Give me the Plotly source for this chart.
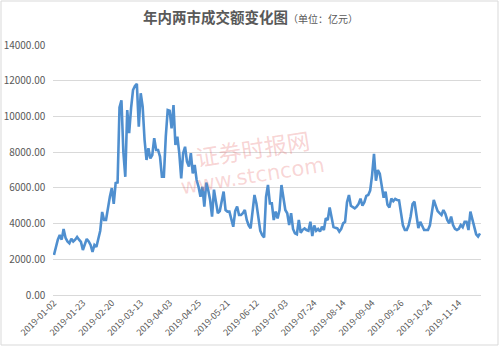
import plotly.graph_objects as go

# Trading-day turnover (亿元), 2019-01-02 .. 2019-11-29
values = [
    2240, 2700, 3100, 3360, 3100, 3700, 3200, 3000, 2900, 3150,
    3000, 3100, 3250, 3100, 2970, 2520, 2900, 3140, 3000, 2800,
    2410, 2800, 2690, 3100, 3600, 4650, 4200, 4200, 4900, 5500,
    5990, 5100, 6270, 6300, 10500, 10900, 8000, 6620, 10360, 9070,
    10470, 11480, 11700, 11820, 9430, 11300, 10550, 8680, 7560, 8220,
    7650, 7840, 8780, 8120, 8120, 7750, 6620, 6620, 8870, 10360,
    10320, 9330, 10640, 8400, 8870, 7940, 6530, 7940, 8300, 7470,
    7190, 7940, 6810, 7280, 6440, 6060, 5500, 6060, 4950, 6300,
    5880, 5320, 4390, 5900, 5230, 4580, 4700, 5230, 5790, 4760,
    4670, 4670, 4200, 3820, 4700, 4950, 4480, 4480, 4580, 4760,
    4200, 3900, 3730, 4800, 5600, 5130, 4300, 3600, 3360, 3230,
    5500, 6160, 5130, 5130, 4200, 4670, 4290, 4760, 6160, 5500,
    4760, 4580, 3920, 4580, 3700, 3450, 3400, 4200, 3490, 3650,
    3730, 3640, 3600, 4100, 3300, 3900, 3600, 3700, 3550, 3820,
    3640, 4300, 4200, 4900, 4290, 3800, 3760, 3730, 3550, 3700,
    4010, 4100, 5200, 5600, 5000, 4900, 4850, 4950, 5100, 5400,
    5000, 5200, 5550, 5600, 5850, 6700, 7900, 6400, 7000, 6800,
    6050, 5450, 5790, 5050, 4900, 5400, 5250, 5380, 5320, 5300,
    4600, 3900, 3640, 3640, 3900, 4400, 5100, 5230, 4480, 3750,
    4100, 3850, 3640, 3640, 3640, 3900, 4700, 5320, 5000, 4700,
    4580, 4480, 4760, 4550, 4200, 4010, 4390, 3920, 3700, 3640,
    3700, 3920, 3800, 4100, 4100, 3640, 4670, 4290, 3800, 3400,
    3270, 3450,
]

# Category-axis labels shown every 15 trading days
tick_labels = [
    "2019-01-02", "2019-01-23", "2019-02-20", "2019-03-13", "2019-04-03",
    "2019-04-25", "2019-05-21", "2019-06-12", "2019-07-03", "2019-07-24",
    "2019-08-14", "2019-09-04", "2019-09-26", "2019-10-24", "2019-11-14",
]
tick_step = 15

title_main = "年内两市成交额变化图"
title_unit = "（单位：亿元）"
watermark_cn = "证券时报网"
watermark_en = "www.stcncom"

x = list(range(len(values)))
tick_pos = [i * tick_step for i in range(len(tick_labels))]

fig = go.Figure()
fig.add_trace(go.Scatter(
    x=x, y=values, mode="lines",
    line=dict(color="#4f8fcf", width=2.6),
    hoverinfo="y",
))

L, R, T, B = 53, 19, 45, 52
W, H = 500, 347
pw, ph = W - L - R, H - T - B

fig.update_layout(
    width=W, height=H,
    margin=dict(l=L, r=R, t=T, b=B, autoexpand=False),
    paper_bgcolor="white", plot_bgcolor="white",
    showlegend=False,
    font=dict(family="Noto Sans CJK SC, Microsoft YaHei, sans-serif", color="#595959"),
    xaxis=dict(
        range=[-0.5, len(values) - 0.5],
        tickmode="array", tickvals=tick_pos, ticktext=tick_labels,
        tickangle=-45, tickfont=dict(size=9, color="#595959"),
        showgrid=False, zeroline=False, showline=False, ticks="",
        automargin=False,
    ),
    yaxis=dict(
        range=[0, 14000], dtick=2000, tickformat=".2f",
        tickfont=dict(size=10, color="#595959"),
        ticksuffix="\u00a0\u00a0\u00a0",
        showgrid=True, gridcolor="#d9d9d9", gridwidth=1,
        zeroline=True, zerolinecolor="#d9d9d9", zerolinewidth=1,
        showline=False, ticks="", automargin=False,
    ),
)

def px2paper(px, py):
    return (px - L) / pw, (H - B - py) / ph

tx, ty = px2paper(250, 17)
fig.add_annotation(
    x=tx, y=ty, xref="paper", yref="paper", yanchor="middle", xanchor="center",
    text=f"<b>{title_main}</b><span style='font-size:10px'>{title_unit}</span>",
    showarrow=False, font=dict(size=14.5, color="#595959"),
)

ax, ay = px2paper(252, 148)
fig.add_annotation(x=ax, y=ay, xref="paper", yref="paper", text=watermark_cn,
                   showarrow=False, textangle=-9,
                   font=dict(size=23, color="rgba(232,110,110,0.30)",
                             family="Noto Sans CJK SC, serif"))
ax, ay = px2paper(252, 176)
fig.add_annotation(x=ax, y=ay, xref="paper", yref="paper", text=watermark_en,
                   showarrow=False, textangle=-9,
                   font=dict(size=21, color="rgba(232,110,110,0.28)",
                             family="DejaVu Sans"))

x0, y0 = px2paper(1, 345)
x1, y1 = px2paper(498, 1)
fig.add_shape(type="rect", xref="paper", yref="paper", x0=x0, y0=y0, x1=x1, y1=y1,
              line=dict(color="#d9d9d9", width=1), layer="below")

fig.write_html("out.html")
